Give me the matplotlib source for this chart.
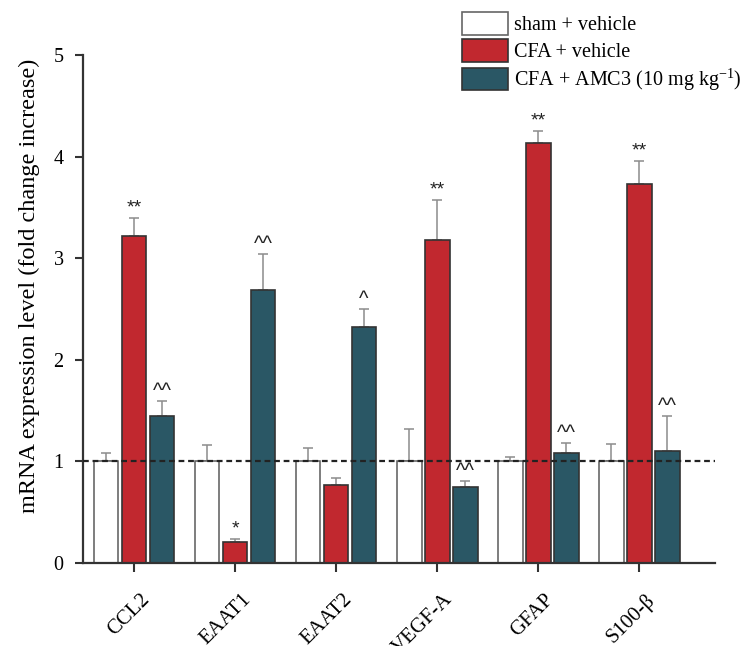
import matplotlib
matplotlib.use("Agg")
import matplotlib.pyplot as plt
from matplotlib.patches import Patch
from matplotlib.transforms import ScaledTranslation
import numpy as np

# Gene targets and group means / SEM (fold change vs sham)
genes = ["CCL2", "EAAT1", "EAAT2", "VEGF-A", "GFAP", "S100-β"]
groups = ["sham + vehicle", "CFA + vehicle", r"CFA + AMC3 (10 mg kg$^{\mathregular{-1}}$)"]

sham_mean = [1.0, 1.0, 1.0, 1.0, 1.0, 1.0]
sham_err = [0.085, 0.16, 0.135, 0.32, 0.04, 0.17]

cfa_mean = [3.22, 0.21, 0.765, 3.18, 4.13, 3.73]
cfa_err = [0.18, 0.03, 0.075, 0.39, 0.12, 0.23]

amc_mean = [1.45, 2.69, 2.32, 0.75, 1.08, 1.105]
amc_err = [0.14, 0.35, 0.18, 0.06, 0.10, 0.345]

# Significance marks above the CFA and AMC3 bars
cfa_sig = ["**", "*", "", "**", "**", "**"]
amc_sig = ["^^", "^^", "^", "^^", "^^", "^^"]

plt.rcParams["font.family"] = ["Liberation Serif", "DejaVu Serif"]
plt.rcParams["mathtext.fontset"] = "custom"
plt.rcParams["mathtext.rm"] = "Liberation Serif"

RED = "#C1282F"
TEAL = "#2A5765"
AXC = "#333333"

fig = plt.figure(figsize=(7.43, 6.46), dpi=100)
ax = fig.add_axes([83 / 743, 1 - 563 / 646, (715 - 83) / 743, (563 - 55) / 646])

x = np.arange(len(genes))
w = 0.245
off = 0.277

err_kw = dict(ecolor="#8c8c8c", elinewidth=1.1, capsize=3.3, capthick=1.1)
zeros = np.zeros(len(genes))

ax.bar(x - off, sham_mean, w, color="white", edgecolor="#5a5a5a", linewidth=1.1, zorder=2)
ax.errorbar(x - off, sham_mean, yerr=[zeros, sham_err], fmt="none", zorder=1, **err_kw)
ax.bar(x, cfa_mean, w, color=RED, edgecolor="#333333", linewidth=1.2, zorder=2)
ax.errorbar(x, cfa_mean, yerr=[zeros, cfa_err], fmt="none", zorder=1, **err_kw)
ax.bar(x + off, amc_mean, w, color=TEAL, edgecolor="#333333", linewidth=1.2, zorder=2)
ax.errorbar(x + off, amc_mean, yerr=[zeros, amc_err], fmt="none", zorder=1, **err_kw)

# Significance annotations
for xi, m, e, s in zip(x, cfa_mean, cfa_err, cfa_sig):
    if s:
        ax.annotate(s, (xi, m + e), xytext=(0, 1), textcoords="offset points",
                    ha="center", va="bottom", fontsize=14, family="Liberation Sans",
                    color="#222222")
for xi, m, e, s in zip(x, amc_mean, amc_err, amc_sig):
    if s:
        ax.annotate(s, (xi + off, m + e), xytext=(0, 0), textcoords="offset points",
                    ha="center", va="bottom", fontsize=14.5, family="Liberation Sans",
                    color="#222222")

# Reference level at 1-fold
ax.axhline(1.0, color="#222222", linestyle=(0, (2.6, 1.7)), linewidth=1.6, zorder=3)

ax.set_xlim(-0.505, 5.75)
ax.set_ylim(0, 5)
ax.set_yticks([0, 1, 2, 3, 4, 5])
ax.set_xticks(x)
ax.set_xticklabels(genes, rotation=45, ha="right", va="top", rotation_mode="anchor",
                   fontsize=15)
ax.tick_params(axis="x", length=6.5, width=1.5, color=AXC, pad=13)
ax.tick_params(axis="y", length=6, width=1.5, color=AXC, labelsize=14.5, pad=8)
shift = ScaledTranslation(6 / 100, 0, fig.dpi_scale_trans)
for lbl in ax.get_xticklabels():
    lbl.set_transform(lbl.get_transform() + shift)

for side in ("top", "right"):
    ax.spines[side].set_visible(False)
for side in ("left", "bottom"):
    ax.spines[side].set_color(AXC)
    ax.spines[side].set_linewidth(1.6)

ax.set_ylabel("mRNA expression level (fold change increase)", fontsize=17.5)
ax.yaxis.set_label_coords(-0.068, 0.545)

handles = [Patch(facecolor="white", edgecolor="#666666", linewidth=1.2),
           Patch(facecolor=RED, edgecolor="#333333", linewidth=1.2),
           Patch(facecolor=TEAL, edgecolor="#333333", linewidth=1.2)]
fig.legend(handles, groups, loc="upper left", bbox_to_anchor=(462 / 743, 1 - 12 / 646),
           frameon=False, fontsize=14.5, handlelength=2.28, handleheight=1.35,
           handletextpad=0.3, labelspacing=0.2, borderpad=0, borderaxespad=0)

fig.savefig("out.png", dpi=100)
